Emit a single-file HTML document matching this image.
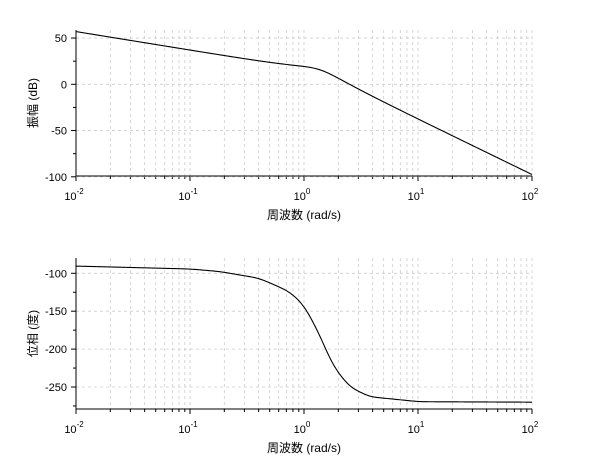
<!DOCTYPE html>
<html><head><meta charset="utf-8"><style>
html,body{margin:0;padding:0;background:#fff;width:610px;height:460px;overflow:hidden}
svg{display:block;font-family:"Liberation Sans","Noto Sans CJK JP",sans-serif}
</style></head><body>
<svg id="s" width="610" height="460" viewBox="0 0 610 460"></svg>
<script>
const S=document.getElementById('s');let h='';
const L=76,R=532,dec=(R-L)/4;
const xs=w=>L+(Math.log10(w)+2)*dec;
const wn=1.37,z=0.42,K=7.08*wn*wn;
function axes(top,bot,v2y,yt,ymin,ymax,title,data){
  for(let d=-2;d<2;d++)for(let m=1;m<10;m++){const x=xs(m*Math.pow(10,d));if(x>L+0.5)h+=`<line x1="${x}" y1="${top}" x2="${x}" y2="${bot}" stroke="#ccc" stroke-dasharray="3,3" stroke-width="0.8"/>`;
    h+=`<line x1="${x}" y1="${bot}" x2="${x}" y2="${bot+(m==1?5:3)}" stroke="#000"/>`;}
  h+=`<line x1="${R}" y1="${top}" x2="${R}" y2="${bot}" stroke="#ccc" stroke-dasharray="3,3" stroke-width="0.8"/><line x1="${R}" y1="${bot}" x2="${R}" y2="${bot+5}" stroke="#000"/>`;
  for(const v of yt){const y=v2y(v);h+=`<line x1="${L}" y1="${y}" x2="${R}" y2="${y}" stroke="#ccc" stroke-dasharray="3,3" stroke-width="0.8"/><line x1="${L-5}" y1="${y}" x2="${L}" y2="${y}" stroke="#000"/><text x="${L-9}" y="${y+4}" font-size="11" text-anchor="end">${v}</text>`;}
  for(let v=ymin;v<=ymax;v+=25){if(yt.includes(v))continue;const y=v2y(v);if(y<top||y>bot)continue;h+=`<line x1="${L-3}" y1="${y}" x2="${L}" y2="${y}" stroke="#000"/>`;}
  for(let d=-2;d<=2;d++){const x=xs(Math.pow(10,d));h+=`<text x="${x-2}" y="${bot+24}" font-size="11" text-anchor="middle">10<tspan dy="-6" font-size="8">${d}</tspan></text>`;}
  h+=`<text x="304" y="${bot+43}" font-size="12" text-anchor="middle">周波数 (rad/s)</text>`;
  const cy=(top+bot)/2;h+=`<text transform="translate(37,${cy}) rotate(-90)" font-size="12" text-anchor="middle">${title}</text>`;
  h+=`<polyline points="${data}" fill="none" stroke="#000" stroke-width="1.1"/>`;
  h+=`<line x1="${L}" y1="${top}" x2="${L}" y2="${bot}" stroke="#000"/><line x1="${L}" y1="${bot}" x2="${R}" y2="${bot}" stroke="#000"/>`;
}
const P=[[-2.5,-90.3],[-2,-90.5],[-1,-94.3],[-0.743,-97.6],[-0.392,-106.6],[-0.129,-124],[0,-142],[0.134,-180],[0.25,-221],[0.397,-249.6],[0.573,-262.8],[1.01,-269.4],[2,-270],[2.5,-270]];
function ph(lw){for(let i=0;i<P.length-1;i++){if(lw<=P[i+1][0]){const [a,b]=P[i],[c,d]=P[i+1];return b+(d-b)*(lw-a)/(c-a);}}return -270;}
function phs(lw){let s=0,n=0;for(let k=-8;k<=8;k++){const wt=9-Math.abs(k);s+=wt*ph(lw+k*0.012);n+=wt;}return s/n;}
let m=[],p=[];
for(let i=0;i<=400;i++){const lw=-2+4*i/400,w=Math.pow(10,lw);const re=wn*wn-w*w,im=2*z*wn*w;
 const mag=20*Math.log10(K/(w*Math.hypot(re,im)));
 const x=xs(w);m.push(x.toFixed(2)+','+(84.3-mag*0.925).toFixed(2));p.push(x.toFixed(2)+','+(273.3-(phs(lw)+100)*0.758).toFixed(2));}
axes(30,176,v=>84.3-v*0.925,[50,0,-50,-100],-100,50,'振幅 (dB)',m.join(' '));
axes(258,409,v=>273.3-(v+100)*0.758,[-100,-150,-200,-250],-275,-100,'位相 (度)',p.join(' '));
S.innerHTML=h;
</script>
</body></html>
